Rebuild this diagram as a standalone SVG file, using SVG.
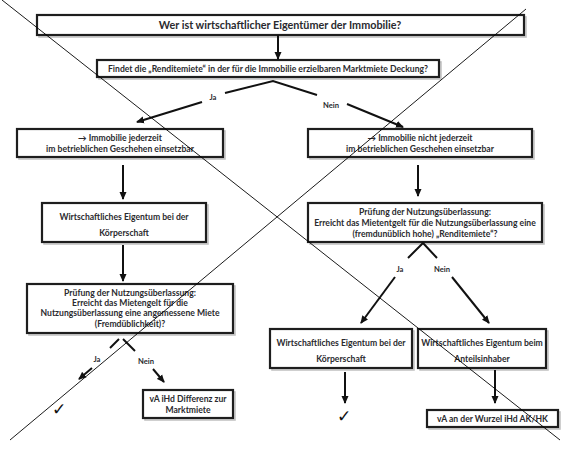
<svg xmlns="http://www.w3.org/2000/svg" width="567" height="450" viewBox="0 0 567 450">
<style>
.box{fill:#fff;stroke:#1e1e1e;stroke-width:2.2}
.sh{fill:none;stroke:#c4c4c4;stroke-width:1.6}
.t{font-family:Lato,"Liberation Sans",sans-serif;font-weight:bold;font-size:8.6px;fill:#2a2a2e;text-anchor:middle}
.tt{font-size:10.8px}
.lbl{font-size:7.6px}
.con{stroke:#111;stroke-width:2;fill:none}
.x{stroke:#000;stroke-width:0.9;fill:none}
.chk{font-family:"DejaVu Sans",sans-serif;font-size:17px;fill:#111;text-anchor:middle}
</style>
<defs>
<marker id="ah" markerWidth="8" markerHeight="8" refX="7" refY="4" orient="auto" markerUnits="userSpaceOnUse"><path d="M0,0.5 L8,4 L0,7.5 z" fill="#111"/></marker>
</defs>
<rect width="567" height="450" fill="#fff"/>

<g id="n-title"><rect class="sh" x="39" y="17" width="487" height="20"/><rect class="box" x="37" y="15" width="487" height="20"/><text class="t tt" x="280" y="29">Wer ist wirtschaftlicher Eigentümer der Immobilie?</text></g>
<g id="n-q1"><rect class="sh" x="99" y="62" width="342" height="17"/><rect class="box" x="97" y="60" width="342" height="17"/><text class="t" x="268" y="72">Findet die „Renditemiete“  in der für die Immobilie erzielbaren Marktmiete Deckung?</text></g>
<g id="n-a"><rect class="sh" x="19" y="131" width="206" height="28"/><rect class="box" x="17" y="129" width="206" height="28"/><text class="t" x="120" y="141">→ Immobilie jederzeit</text><text class="t" x="120" y="152">im betrieblichen Geschehen einsetzbar</text></g>
<g id="n-e"><rect class="sh" x="310" y="131" width="224" height="28"/><rect class="box" x="308" y="129" width="224" height="28"/><text class="t" x="420" y="141">→ Immobilie nicht jederzeit</text><text class="t" x="420" y="152">im betrieblichen Geschehen einsetzbar</text></g>
<g id="n-b"><rect class="sh" x="44" y="205" width="164" height="39"/><rect class="box" x="42" y="203" width="164" height="39"/><text class="t" x="124" y="220">Wirtschaftliches Eigentum bei der</text><text class="t" x="124" y="236">Körperschaft</text></g>
<g id="n-f"><rect class="sh" x="310" y="205" width="234" height="39"/><rect class="box" x="308" y="203" width="234" height="39"/><text class="t" x="425" y="215">Prüfung der Nutzungsüberlassung:</text><text class="t" x="425" y="226">Erreicht das Mietentgelt für die Nutzungsüberlassung eine</text><text class="t" x="425" y="237">(fremdunüblich hohe) „Renditemiete“?</text></g>
<g id="n-c"><rect class="sh" x="29" y="286" width="206" height="49"/><rect class="box" x="27" y="284" width="206" height="49"/><text class="t" x="130" y="296">Prüfung der Nutzungsüberlassung:</text><text class="t" x="130" y="306">Erreicht das Mietengelt für die</text><text class="t" x="130" y="316">Nutzungsüberlassung eine angemessene Miete</text><text class="t" x="130" y="327">(Fremdüblichkeit)?</text></g>
<g id="n-d"><rect class="sh" x="145" y="392" width="90" height="28"/><rect class="box" x="143" y="390" width="90" height="28"/><text class="t" x="188" y="402">vA iHd Differenz zur</text><text class="t" x="188" y="413">Marktmiete</text></g>
<g id="n-g"><rect class="sh" x="272" y="331" width="142" height="39"/><rect class="box" x="270" y="329" width="142" height="39"/><text class="t" x="341" y="346">Wirtschaftliches Eigentum bei der</text><text class="t" x="341" y="362">Körperschaft</text></g>
<g id="n-h"><rect class="sh" x="420" y="331" width="128" height="39"/><rect class="box" x="418" y="329" width="128" height="39"/><text class="t" x="482" y="346">Wirtschaftliches Eigentum beim</text><text class="t" x="482" y="362">Anteilsinhaber</text></g>
<g id="n-i"><rect class="sh" x="429" y="412" width="131" height="17"/><rect class="box" x="427" y="410" width="131" height="17"/><text class="t" x="492.5" y="421.5">vA an der Wurzel iHd AK/HK</text></g>
<g id="n-chk1"><text class="chk" x="59" y="415">✓</text></g>
<g id="n-chk2"><text class="chk" x="344" y="422">✓</text></g>

<g id="connectors">
<line class="con" x1="278" y1="35" x2="278" y2="59" marker-end="url(#ah)"/>
<polyline class="con" points="225,93 273,81 317,95"/>
<line class="con" x1="202" y1="102" x2="137" y2="122" marker-end="url(#ah)"/>
<line class="con" x1="347" y1="104" x2="403" y2="127" marker-end="url(#ah)"/>
<text class="t lbl" x="213" y="100">Ja</text>
<text class="t lbl" x="331" y="108">Nein</text>
<line class="con" x1="123" y1="165" x2="123" y2="199" marker-end="url(#ah)"/>
<line class="con" x1="418" y1="165" x2="418" y2="196" marker-end="url(#ah)"/>
<line class="con" x1="123" y1="245" x2="123" y2="281" marker-end="url(#ah)"/>
<polyline class="con" points="408,258 423,243 437,258"/>
<text class="t lbl" x="400" y="272">Ja</text>
<text class="t lbl" x="442" y="272">Nein</text>
<line class="con" x1="395" y1="277" x2="361" y2="323" marker-end="url(#ah)"/>
<line class="con" x1="452" y1="277" x2="489" y2="323" marker-end="url(#ah)"/>
<line class="con" x1="110" y1="348" x2="119" y2="339"/>
<line class="con" x1="123" y1="339" x2="135" y2="351"/>
<text class="t lbl" x="97" y="362">Ja</text>
<text class="t lbl" x="146" y="364">Nein</text>
<line class="con" x1="92" y1="368" x2="79" y2="379" marker-end="url(#ah)"/>
<line class="con" x1="153" y1="369" x2="164" y2="382" marker-end="url(#ah)"/>
<line class="con" x1="345" y1="372" x2="345" y2="403" marker-end="url(#ah)"/>
<line class="con" x1="495" y1="370" x2="495" y2="403" marker-end="url(#ah)"/>
</g>

<g id="cross">
<line class="x" x1="2" y1="0" x2="560" y2="440"/>
<line class="x" x1="526" y1="9" x2="10" y2="440"/>
</g>
</svg>
